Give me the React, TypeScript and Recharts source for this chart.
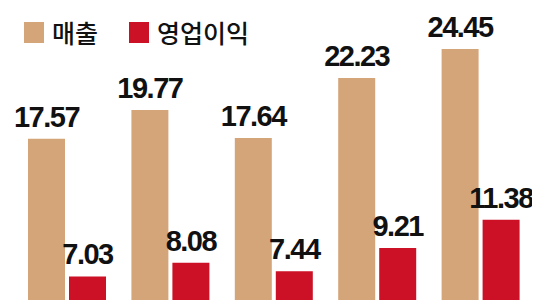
import { BarChart, Bar, XAxis, YAxis, LabelList } from "recharts";

const periods = ["P1", "P2", "P3", "P4", "P5"];
const sales = [17.57, 19.77, 17.64, 22.23, 24.45];
const operatingProfit = [7.03, 8.08, 7.44, 9.21, 11.38];

const data = periods.map((p, i) => ({
  period: p,
  sales: sales[i],
  profit: operatingProfit[i],
}));

const TAN = "#D5A57A";
const RED = "#CC1126";

const labelStyle = {
  fill: "#111",
  fontSize: 29,
  fontWeight: 700,
  letterSpacing: -1.5,
  fontFamily: "'Liberation Sans', Arial, sans-serif",
};

function LegendItem({ color, text }: { color: string; text: string }) {
  return (
    <div style={{ display: "flex", alignItems: "center", marginRight: 31 }}>
      <span
        style={{
          width: 20,
          height: 21,
          background: color,
          display: "inline-block",
          marginRight: 8,
        }}
      />
      <span>{text}</span>
    </div>
  );
}

export default function App() {
  return (
    <div
      style={{
        position: "relative",
        width: 532,
        height: 292,
        overflow: "hidden",
        background: "#fff",
      }}
    >
      <BarChart
        width={532}
        height={292}
        data={data}
        margin={{ top: 0, right: 8, left: 7, bottom: 0 }}
        barSize={37}
        barGap={4}
      >
        <XAxis dataKey="period" hide />
        <YAxis hide domain={[5.23, 27.59]} allowDataOverflow />
        <Bar dataKey="sales" name="매출" fill={TAN} isAnimationActive={false}>
          <LabelList
            dataKey="sales"
            position="top"
            offset={12}
            formatter={(v: any) => Number(v).toFixed(2)}
            style={labelStyle}
          />
        </Bar>
        <Bar dataKey="profit" name="영업이익" fill={RED} isAnimationActive={false}>
          <LabelList
            dataKey="profit"
            position="top"
            offset={12}
            formatter={(v: any) => Number(v).toFixed(2)}
            style={labelStyle}
          />
        </Bar>
      </BarChart>
      <div
        style={{
          position: "absolute",
          left: 16,
          top: 8,
          display: "flex",
          fontFamily: "'Noto Sans CJK KR', sans-serif",
          fontSize: 25,
          fontWeight: 500,
          color: "#111",
          lineHeight: "32px",
        }}
      >
        <LegendItem color={TAN} text="매출" />
        <LegendItem color={RED} text="영업이익" />
      </div>
    </div>
  );
}
